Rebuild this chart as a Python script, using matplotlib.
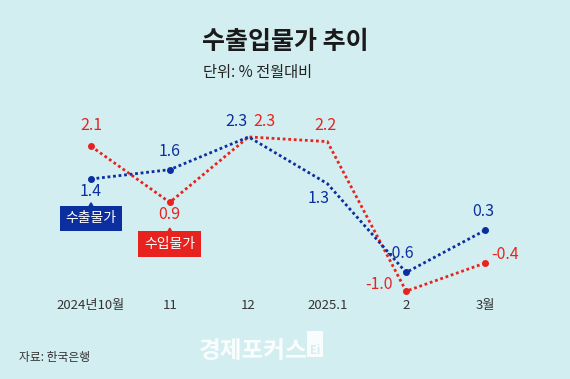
import numpy as np
import matplotlib.pyplot as plt
from matplotlib.patches import Polygon, Rectangle
plt.rcParams["font.family"] = ["Noto Sans CJK KR", "DejaVu Sans"]

months = ["2024년10월", "11", "12", "2025.1", "2", "3월"]
export_price = [1.4, 1.6, 2.3, 1.3, -0.6, 0.3]
import_price = [2.1, 0.9, 2.3, 2.2, -1.0, -0.4]

blue = "#0b2f9f"
red = "#e8231f"
bg = "#d3eef0"

fig = plt.figure(figsize=(5.7, 3.79), dpi=100, facecolor=bg)
ax = fig.add_axes([0, 0, 1, 1])
ax.set_facecolor(bg)
ax.set_xlim(-1.155, 6.08)
ax.set_ylim(-2.88, 5.23)
ax.axis("off")

x = np.arange(len(months))
ax.plot(x, import_price, c=red, linestyle=(0, (1, 1)), linewidth=2,
        marker="o", markersize=4, markevery=[0, 1, 4, 5])
ax.plot(x, export_price, c=blue, linestyle=(0, (1, 1)), linewidth=2,
        marker="o", markersize=4, markevery=[0, 1, 4, 5])

# value labels (offsets in points)
exp_off = [(0, -9), (0, 13), (-8.5, 11), (-6, -10.5), (-4.5, 14), (-1.5, 13.5)]
imp_off = [(0, 15), (0, -8.5), (11.5, 11), (-1.5, 11.5), (-19.5, 4.5), (14.5, 6.5)]
for i in range(len(months)):
    ax.annotate(f"{export_price[i]:.1f}", (x[i], export_price[i]),
                xytext=exp_off[i], textcoords="offset points",
                ha="center", va="center", color=blue, fontsize=11.5)
    ax.annotate(f"{import_price[i]:.1f}", (x[i], import_price[i]),
                xytext=imp_off[i], textcoords="offset points",
                ha="center", va="center", color=red, fontsize=11.5)

# legend tags
def tag(xc, yc, text, color):
    ax.text(xc, yc, text, ha="center", va="center", color="white", fontsize=10,
            bbox=dict(boxstyle="square,pad=0.42", fc=color, ec="none"))

tag(0, 0.555, "수출물가", blue)
tag(1, 0.01, "수입물가", red)
ax.add_patch(Polygon([[-0.04, 0.77], [0.04, 0.77], [0, 0.89]], color=blue))
ax.add_patch(Polygon([[0.96, 0.23], [1.04, 0.23], [1, 0.35]], color=red))

for i, m in enumerate(months):
    ax.text(x[i], -1.3, m, ha="center", va="center", fontsize=9.5, color="#333333")

fig.text(0.5, 0.89, "수출입물가 추이", ha="center", va="center",
         fontsize=18, fontweight="bold", color="#1a1a1a")
fig.text(0.357, 0.81, "단위: % 전월대비", ha="left", va="center",
         fontsize=11, color="#222222")
fig.text(0.033, 0.058, "자료: 한국은행", ha="left", va="center",
         fontsize=8.5, color="#333333")
fig.text(0.444, 0.075, "경제포커스", ha="center", va="center",
         fontsize=17, fontweight="bold", color="white", alpha=0.9)
fig.patches.append(Rectangle((0.539, 0.057), 0.028, 0.07, transform=fig.transFigure,
                             fc="white", ec="none", alpha=0.85))
fig.text(0.553, 0.075, "Ei", ha="center", va="center", fontsize=8,
         color=bg, fontweight="bold")

plt.savefig("out.png", dpi=100, facecolor=bg)
